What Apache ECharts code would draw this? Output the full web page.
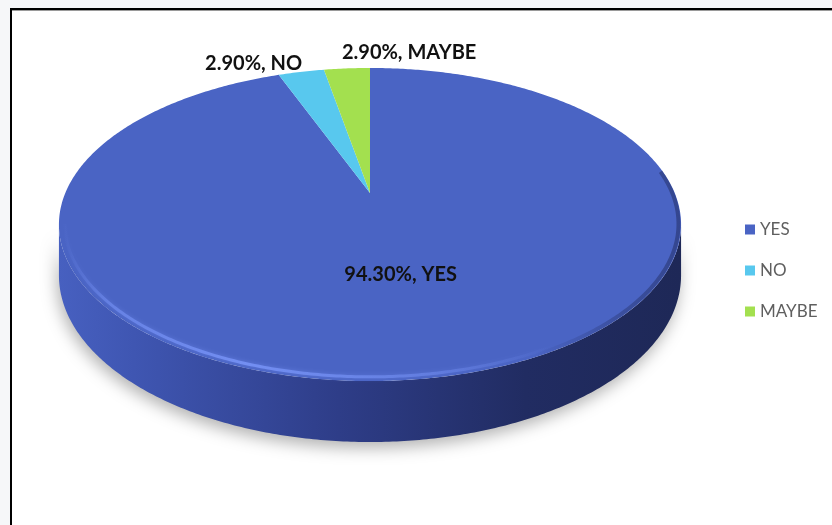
<!DOCTYPE html>
<html>
<head>
<meta charset="utf-8">
<script src="https://cdn.jsdelivr.net/npm/echarts@6/dist/echarts.min.js"></script>
<style>
  html, body { margin: 0; padding: 0; background: #f6f7f9; }
  #chart { width: 832px; height: 525px; }
</style>
</head>
<body>
<div id="chart"></div>
<script>
// Survey answers and their shares (percent)
const categories = ['YES', 'NO', 'MAYBE'];
const shares = [94.3, 2.9, 2.9];
const sliceColors = ['#4a64c4', '#58c8ee', '#a3e04f'];

const total = shares.reduce((a, b) => a + b, 0);

// Layout of the tilted disc: centre, radii, perspective factor and thickness
const disc = { cx: 370, cy: 193, rx: 304.7, ry: 150.2, persp: 0.2013, depth: 48.7 };
// Where each answer's label sits relative to its slice
const labelLayout = [
  { inside: true },
  { align: 'right', dx: 1, dy: 2 },
  { align: 'left', dx: -5, dy: -6 }
];

// Angle measured clockwise from 12 o'clock; r is fraction of radius, h is height offset downwards
function project(theta, r, h) {
  const u = r * Math.sin(theta);
  const v = r * Math.cos(theta);
  const w = 1 + disc.persp * v;
  return [disc.cx + disc.rx * u / w, disc.cy + (-disc.ry * v + h) / w];
}

function arcPoints(a0, a1, r, h) {
  const pts = [];
  const n = Math.max(2, Math.ceil((a1 - a0) / 0.01));
  for (let i = 0; i <= n; i++) pts.push(project(a0 + (a1 - a0) * i / n, r, h));
  return pts;
}

function renderSlice(idx) {
  return function (params, api) {
    const value = api.value(0);
    let before = 0;
    for (let j = 0; j < idx; j++) before += shares[j];
    const a0 = before / total * Math.PI * 2;
    const a1 = (before + value) / total * Math.PI * 2;
    const children = [];

    // Front wall: only the part between the two silhouette angles faces the viewer
    const fL = Math.acos(-disc.persp);
    const fR = Math.PI * 2 - fL;
    const s0 = Math.max(a0, fL), s1 = Math.min(a1, fR);
    if (s1 > s0) {
      const topEdge = arcPoints(s0, s1, 1, 0);
      const bottomEdge = arcPoints(s0, s1, 1, disc.depth).reverse();
      children.push({
        type: 'polygon',
        shape: { points: topEdge.concat(bottomEdge) },
        style: {
          fill: new echarts.graphic.LinearGradient(0, 0, 1, 0, [
            { offset: 0, color: '#4760c0' },
            { offset: 0.12, color: '#3f56b2' },
            { offset: 0.45, color: '#2e3d88' },
            { offset: 0.75, color: '#212c62' },
            { offset: 1, color: '#1e2857' }
          ]),
          shadowBlur: 16,
          shadowColor: 'rgba(0,0,0,0.3)',
          shadowOffsetX: -2,
          shadowOffsetY: 6
        }
      });
    }

    // Top face
    const top = [project(0, 0, 0)].concat(arcPoints(a0, a1, 1, 0));
    children.push({
      type: 'polygon',
      shape: { points: top },
      style: { fill: sliceColors[idx] }
    });

    // Bevel shading along the front rim: bright on the left, darker on the right
    if (s1 > s0) {
      children.push({
        type: 'polyline',
        shape: { points: arcPoints(s0, s1, 0.982, 0) },
        style: {
          stroke: new echarts.graphic.LinearGradient(0, 0, 1, 0, [
            { offset: 0, color: 'rgba(120,148,248,0)' },
            { offset: 0.08, color: 'rgba(120,148,248,0.55)' },
            { offset: 0.3, color: 'rgba(120,148,248,0.85)' },
            { offset: 0.6, color: 'rgba(120,148,248,0.45)' },
            { offset: 0.8, color: 'rgba(120,148,248,0)' }
          ]),
          lineWidth: 3,
          fill: null,
          shadowBlur: 4,
          shadowColor: 'rgba(118,145,245,0.6)'
        },
        silent: true
      });
      children.push({
        type: 'polyline',
        shape: { points: arcPoints(fL - 0.35, fL + 0.9, 0.992, 0) },
        style: {
          stroke: new echarts.graphic.LinearGradient(0, 0, 1, 0, [
            { offset: 0, color: 'rgba(30,40,90,0)' },
            { offset: 0.6, color: 'rgba(30,40,90,0.35)' },
            { offset: 1, color: 'rgba(30,40,90,0.5)' }
          ]),
          lineWidth: 4,
          fill: null
        },
        silent: true
      });
    }

    // Data label
    const lay = labelLayout[idx];
    const text = value.toFixed(2) + '%, ' + categories[idx];
    const mid = (a0 + a1) / 2;
    let pos, align, vAlign;
    if (lay.inside) {
      pos = project(mid, 0.5, 0);
      align = 'center';
      vAlign = 'middle';
    } else {
      const p = project(mid, 1, 0);
      pos = [p[0] + lay.dx, p[1] + lay.dy];
      align = lay.align;
      vAlign = 'bottom';
    }
    children.push({
      type: 'text',
      style: {
        text: text,
        x: pos[0],
        y: pos[1],
        align: align,
        verticalAlign: vAlign,
        fill: '#111111',
        font: 'bold 20px Lato, "Open Sans", sans-serif'
      },
      z2: 10
    });

    return { type: 'group', children: children };
  };
}

const chart = echarts.init(document.getElementById('chart'), null, { renderer: 'canvas' });

chart.setOption({
  animation: false,
  backgroundColor: '#f6f7f9',
  color: sliceColors,
  graphic: [
    { type: 'rect', shape: { x: 10, y: 8, width: 822, height: 517 }, style: { fill: '#ffffff' }, z: -10 },
    { type: 'rect', shape: { x: 10, y: 8, width: 822, height: 2 }, style: { fill: '#000000' }, z: -9 },
    { type: 'rect', shape: { x: 12, y: 10, width: 820, height: 1 }, style: { fill: '#9a9a9a' }, z: -9 },
    { type: 'rect', shape: { x: 10, y: 8, width: 2, height: 517 }, style: { fill: '#000000' }, z: -9 }
  ],
  legend: {
    orient: 'vertical',
    left: 740,
    top: 216,
    icon: 'rect',
    itemWidth: 10,
    itemHeight: 10,
    itemGap: 24,
    textStyle: { color: '#5f5f5f', fontSize: 17, fontFamily: 'Lato, "Open Sans", sans-serif' },
    data: categories
  },
  series: categories.map((name, i) => ({
    type: 'custom',
    name: name,
    coordinateSystem: 'none',
    renderItem: renderSlice(i),
    itemStyle: { color: sliceColors[i] },
    data: [[shares[i]]]
  }))
});
</script>
</body>
</html>
